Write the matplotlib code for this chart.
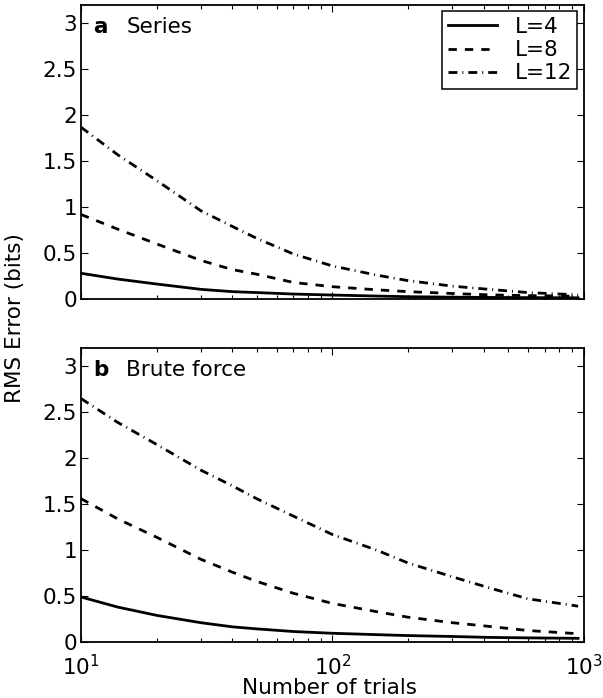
import matplotlib
matplotlib.use("Agg")
import matplotlib.pyplot as plt

plt.rcParams['font.family'] = ['DejaVu Sans']
plt.rcParams['mathtext.fontset'] = 'dejavusans'

trials = [10, 14, 20, 30, 40, 50, 70, 100, 150, 200, 300, 420, 600, 950]

series_L4 = [0.28, 0.217, 0.163, 0.105, 0.08, 0.07, 0.054, 0.043, 0.032, 0.025, 0.02, 0.017, 0.015, 0.013]
series_L8 = [0.92, 0.76, 0.60, 0.42, 0.32, 0.27, 0.18, 0.134, 0.10, 0.08, 0.06, 0.045, 0.037, 0.03]
series_L12 = [1.87, 1.57, 1.29, 0.96, 0.79, 0.66, 0.49, 0.36, 0.26, 0.20, 0.14, 0.105, 0.07, 0.045]

brute_L4 = [0.49, 0.38, 0.29, 0.21, 0.165, 0.143, 0.114, 0.095, 0.08, 0.07, 0.06, 0.05, 0.045, 0.04]
brute_L8 = [1.56, 1.34, 1.14, 0.90, 0.76, 0.66, 0.53, 0.42, 0.33, 0.27, 0.21, 0.17, 0.125, 0.09]
brute_L12 = [2.65, 2.39, 2.15, 1.87, 1.70, 1.56, 1.37, 1.17, 1.00, 0.86, 0.71, 0.59, 0.47, 0.39]

labels = ["L=4", "L=8", "L=12"]
panel_letters = ["a", "b"]
panel_titles = ["Series", "Brute force"]
yticks = [0, 0.5, 1, 1.5, 2, 2.5, 3]
ytick_labels = ["0", "0.5", "1", "1.5", "2", "2.5", "3"]

fig = plt.figure(figsize=(6.03, 6.98), dpi=100)
W, H = 603, 698
ax_top = fig.add_axes([81 / W, 1 - 299 / H, 502.7 / W, 294 / H])
ax_bot = fig.add_axes([81 / W, 1 - 642 / H, 502.7 / W, 294 / H])

styles = [dict(linestyle='-'),
          dict(linestyle=(0, (3.0, 2.9))),
          dict(linestyle=(0, (3.2, 1.8, 0.35, 1.8)))]

fs = 15.5
for ax, data, letter, title in [(ax_top, (series_L4, series_L8, series_L12), panel_letters[0], panel_titles[0]),
                                (ax_bot, (brute_L4, brute_L8, brute_L12), panel_letters[1], panel_titles[1])]:
    for d, lab, st in zip(data, labels, styles):
        ax.plot(trials, d, color='black', lw=2.0, label=lab, **st)
    ax.set_xscale('log')
    ax.set_xlim(10, 1000)
    ax.set_ylim(0, 3.2)
    ax.set_yticks(yticks)
    ax.set_yticklabels(ytick_labels)
    ax.tick_params(which='both', direction='in', top=True, right=True, labelsize=fs, width=0.8)
    ax.tick_params(which='major', length=5)
    ax.tick_params(which='minor', length=3)
    ax.tick_params(axis='y', pad=3)
    for sp in ax.spines.values():
        sp.set_linewidth(1.3)
    ax.text(0.024, 0.925, letter, transform=ax.transAxes, fontsize=fs, fontweight='bold', va='center', ha='left')
    ax.text(0.09, 0.925, title, transform=ax.transAxes, fontsize=fs, va='center', ha='left')

ax_top.tick_params(axis='x', labelbottom=False)
ax_bot.tick_params(axis='x', pad=9)

leg = ax_top.legend(loc='upper right', fontsize=fs, frameon=True, fancybox=False,
                    edgecolor='black', framealpha=1, handlelength=2.3, borderpad=0.25,
                    labelspacing=0.15, handletextpad=0.8, borderaxespad=0.3)
leg.get_frame().set_linewidth(1.1)

fig.text(330 / W, 1 - 688 / H, "Number of trials", fontsize=fs, ha='center', va='center')
fig.text(15 / W, 1 - 318 / H, "RMS Error (bits)", fontsize=fs, ha='center', va='center', rotation=90)

fig.savefig("out.png", dpi=100)
